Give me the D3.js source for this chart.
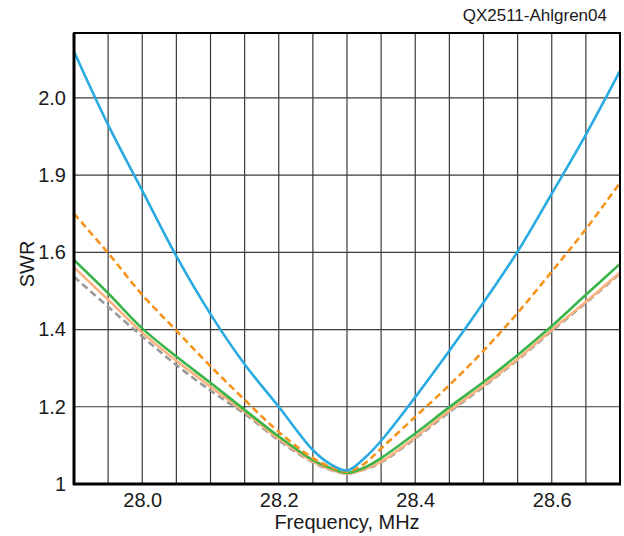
<!DOCTYPE html>
<html>
<head>
<meta charset="utf-8">
<script src="https://cdn.jsdelivr.net/npm/d3@7"></script>
<style>
  body { margin: 0; background: #fff; }
  text { font-family: "Liberation Sans", Arial, sans-serif; fill: #1a1a1a; }
</style>
</head>
<body>
<svg id="chart" width="624" height="536"></svg>
<script>
// frequencies in MHz
const freqs = [27.90, 27.95, 28.00, 28.05, 28.10, 28.15, 28.20, 28.25, 28.275, 28.30,
               28.325, 28.35, 28.40, 28.45, 28.50, 28.55, 28.60, 28.65, 28.70];

// SWR per curve
const blueSwr   = [2.12, 1.93, 1.76, 1.59, 1.44, 1.31, 1.20, 1.088, 1.052, 1.035,
                   1.066, 1.112, 1.225, 1.345, 1.47, 1.602, 1.752, 1.905, 2.07];
const orangeSwr = [1.70, 1.598, 1.49, 1.397, 1.305, 1.218, 1.135, 1.067, 1.045, 1.032,
                   1.052, 1.092, 1.174, 1.256, 1.345, 1.443, 1.55, 1.66, 1.78];
const greenSwr  = [1.58, 1.494, 1.403, 1.33, 1.262, 1.192, 1.123, 1.062, 1.042, 1.029,
                   1.042, 1.067, 1.131, 1.199, 1.264, 1.334, 1.409, 1.49, 1.57];
const peachSwr  = [1.561, 1.477, 1.392, 1.319, 1.252, 1.187, 1.117, 1.058, 1.038, 1.027,
                   1.038, 1.058, 1.121, 1.19, 1.255, 1.324, 1.399, 1.472, 1.548];
const graySwr   = [1.537, 1.459, 1.382, 1.308, 1.242, 1.182, 1.113, 1.056, 1.037, 1.027,
                   1.037, 1.056, 1.118, 1.186, 1.252, 1.321, 1.396, 1.469, 1.545];

const xTicks = [28.0, 28.2, 28.4, 28.6];
const yTicks = [1, 1.2, 1.4, 1.6, 1.8, 2.0];
const yTickLabels = ["1", "1.2", "1.4", "1.6", "1.9", "2.0"];

const series = [
    { name: "gray",   values: graySwr,   colour: "#9a9a9a", dash: "7,4" },
    { name: "peach",  values: peachSwr,  colour: "#fbb27f", dash: null },
    { name: "green",  values: greenSwr,  colour: "#3bb54a", dash: null },
    { name: "orange", values: orangeSwr, colour: "#f7941d", dash: "7,4" },
    { name: "blue",   values: blueSwr,   colour: "#29abe2", dash: null }
];

const svg = d3.select("#chart");
const margin = { top: 33, right: 4, bottom: 52, left: 74 };
const width = 624 - margin.left - margin.right;
const height = 536 - margin.top - margin.bottom;

const x = d3.scaleLinear().domain([27.9, 28.7]).range([0, width]);
const y = d3.scaleLinear().domain([1, 2.168]).range([height, 0]);

const g = svg.append("g")
             .attr("transform", "translate(" + margin.left + "," + margin.top + ")");

// grid: every 0.05 MHz across, every 0.2 SWR up
const xGrid = d3.range(1, 16).map(i => 27.9 + i * 0.05);
g.selectAll(".vgrid")
 .data(xGrid)
 .enter().append("line")
 .attr("class", "vgrid")
 .attr("x1", d => x(d)).attr("x2", d => x(d))
 .attr("y1", 0).attr("y2", height)
 .style("stroke", "#3a3a3a")
 .style("stroke-width", 1.2);

g.selectAll(".hgrid")
 .data(yTicks.slice(1))
 .enter().append("line")
 .attr("class", "hgrid")
 .attr("x1", 0).attr("x2", width)
 .attr("y1", d => y(d)).attr("y2", d => y(d))
 .style("stroke", "#3a3a3a")
 .style("stroke-width", 1.2);

// curves
const line = d3.line()
               .x((d, i) => x(freqs[i]))
               .y(d => y(d))
               .curve(d3.curveCatmullRom.alpha(0.5));

g.selectAll(".curve")
 .data(series)
 .enter().append("path")
 .attr("class", d => "curve curve-" + d.name)
 .attr("d", d => line(d.values))
 .style("fill", "none")
 .style("stroke", d => d.colour)
 .style("stroke-width", 2.6)
 .style("stroke-dasharray", d => d.dash);

// frame
g.append("rect")
 .attr("x", 0).attr("y", 0)
 .attr("width", width).attr("height", height)
 .style("fill", "none")
 .style("stroke", "#000")
 .style("stroke-width", 2);

g.append("line")
 .attr("x1", 0).attr("x2", 0).attr("y1", 0).attr("y2", height + 1)
 .style("stroke", "#000").style("stroke-width", 3);
g.append("line")
 .attr("x1", -1).attr("x2", width + 1).attr("y1", height).attr("y2", height)
 .style("stroke", "#000").style("stroke-width", 3);

// axes (labels only, grid does the lines)
const xAxis = d3.axisBottom(x).tickValues(xTicks).tickFormat(d3.format(".1f")).tickSize(0).tickPadding(9);
const yAxis = d3.axisLeft(y).tickValues(yTicks).tickFormat((d, i) => yTickLabels[i]).tickSize(0).tickPadding(8);

const xa = g.append("g").attr("transform", "translate(0," + height + ")").call(xAxis);
const ya = g.append("g").call(yAxis);
[xa, ya].forEach(a => {
    a.select(".domain").remove();
    a.selectAll("text")
     .style("font-size", "20px")
     .style("font-family", "'Liberation Sans', Arial, sans-serif")
     .style("fill", "#1a1a1a");
});

svg.append("text")
   .attr("x", margin.left + width / 2)
   .attr("y", 529)
   .attr("text-anchor", "middle")
   .style("font-size", "20px")
   .text("Frequency, MHz");

svg.append("text")
   .attr("transform", "translate(34," + (margin.top + y(1.57)) + ") rotate(-90)")
   .attr("text-anchor", "middle")
   .style("font-size", "20px")
   .text("SWR");

svg.append("text")
   .attr("x", 607)
   .attr("y", 21)
   .attr("text-anchor", "end")
   .style("font-size", "17px")
   .text("QX2511-Ahlgren04");
</script>
</body>
</html>
